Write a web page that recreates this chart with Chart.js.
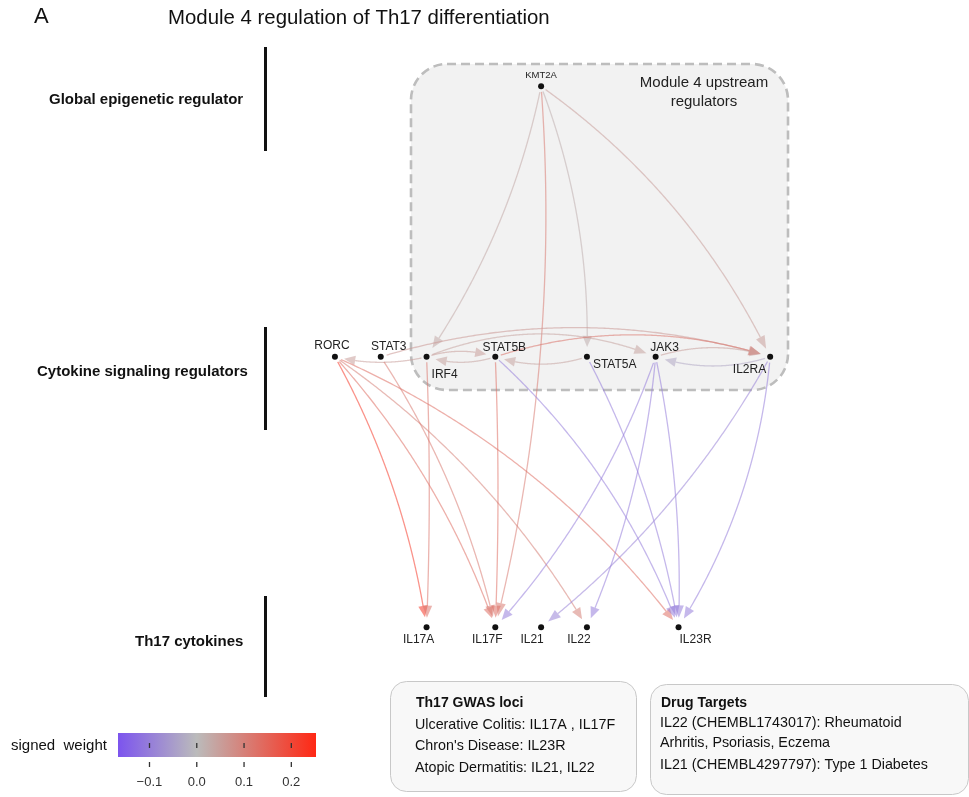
<!DOCTYPE html>
<html><head><meta charset="utf-8">
<script src="https://cdn.jsdelivr.net/npm/chart.js@4/dist/chart.umd.min.js"></script>
<style>html,body{margin:0;padding:0;background:#fff}#wrap{width:969px;height:797px;position:relative}</style>
</head><body><div id="wrap"><canvas id="c" width="969" height="797"></canvas></div>
<script>
// ---------- data ----------
const nodeNames = ['KMT2A','RORC','STAT3','IRF4','STAT5B','STAT5A','JAK3','IL2RA','IL17A','IL17F','IL21','IL22','IL23R'];
const nodeX     = [9, 0, 2, 4, 7, 11, 14, 19, 4, 7, 9, 11, 15];   // layout column
const nodeLayer = [2, 1, 1, 1, 1, 1, 1, 1, 0, 0, 0, 0, 0];        // layout layer
const layerLabels = ['Th17 cytokines','Cytokine signaling regulators','Global epigenetic regulator'];

const edgeFrom   = ['KMT2A','KMT2A','KMT2A','KMT2A','STAT3','IRF4','STAT5B','JAK3','IRF4','STAT5B','STAT5A','IL2RA','IRF4',
                    'RORC','RORC','RORC','RORC','STAT3','IRF4','STAT5B','STAT5B','STAT5A','JAK3','JAK3','JAK3','IL2RA','IL2RA'];
const edgeTo     = ['IRF4','IL17F','STAT5A','IL2RA','IL2RA','JAK3','IL2RA','IL2RA','STAT5B','IRF4','STAT5B','JAK3','RORC',
                    'IL17A','IL17F','IL22','IL23R','IL17F','IL17A','IL17F','IL23R','IL23R','IL17F','IL22','IL23R','IL21','IL23R'];
const edgeWeight = [0.03, 0.11, 0.02, 0.05, 0.06, 0.04, 0.12, 0.05, 0.05, 0.04, 0.04, -0.03, 0.05,
                    0.22, 0.13, 0.10, 0.13, 0.11, 0.12, 0.13, -0.10, -0.10, -0.10, -0.10, -0.10, -0.09, -0.10];
// edge bend (style): sagitta / chord
const edgeBend   = [0.05, 0.04, 0.05, 0.064, 0.075, 0.1, 0.08, 0.08, 0.08, 0.08, 0.08, 0.08, 0.06,
                    0.045, 0.05, 0.055, 0.065, 0.045, 0.01, 0.01, 0.06, 0.04, 0.05, 0.04, 0.03, 0.05, 0.06];

const legendTicks = [-0.1, 0.0, 0.1, 0.2];
const legendMin = -0.1665, legendMax = 0.2523;

const gwasTitle = 'Th17 GWAS loci';
const gwasLines = ['Ulcerative Colitis: IL17A , IL17F', "Chron's Disease: IL23R", 'Atopic Dermatitis: IL21, IL22'];
const drugTitle = 'Drug Targets';
const drugLines = ['IL22 (CHEMBL1743017): Rheumatoid', 'Arhritis, Psoriasis, Eczema', 'IL21 (CHEMBL4297797): Type 1 Diabetes'];

// ---------- styles ----------
const labelStyle = { // dx, dy, align, size
  KMT2A:[0,-11,'center',9.5], RORC:[-3,-11,'center',12], STAT3:[8,-10,'center',12], IRF4:[5,18,'left',12],
  STAT5B:[9,-9,'center',12], STAT5A:[6,8,'left',12], JAK3:[9,-9,'center',12], IL2RA:[-4,13,'right',12],
  IL17A:[-8,12,'center',12], IL17F:[-8,12,'center',12], IL21:[-9,12,'center',12], IL22:[-8,12,'center',12], IL23R:[17,12,'center',12]
};
const FONT = '"Liberation Sans", Arial, sans-serif';
const C_NEG = [124,84,238], C_MID = [187,187,187], C_POS = [255,40,20];
function weightRGB(w){
  let a, b, t;
  if (w < 0){ a = C_MID; b = C_NEG; t = Math.min(1, w / legendMin); }
  else { a = C_MID; b = C_POS; t = Math.min(1, w / legendMax); }
  return a.map((v,i)=>Math.round(v + (b[i]-v)*t));
}
function rgba(c, al){ return `rgba(${c[0]},${c[1]},${c[2]},${al})`; }

function roundRect(ctx, x, y, w, h, r){
  ctx.beginPath();
  ctx.moveTo(x+r, y); ctx.lineTo(x+w-r, y); ctx.arcTo(x+w, y, x+w, y+r, r);
  ctx.lineTo(x+w, y+h-r); ctx.arcTo(x+w, y+h, x+w-r, y+h, r);
  ctx.lineTo(x+r, y+h); ctx.arcTo(x, y+h, x, y+h-r, r);
  ctx.lineTo(x, y+r); ctx.arcTo(x, y, x+r, y, r); ctx.closePath();
}

const networkPlugin = {
  id: 'network',
  beforeDatasetsDraw(chart){
    const ctx = chart.ctx, xs = chart.scales.x, ys = chart.scales.y;
    const pos = {};
    nodeNames.forEach((n,i)=>{ pos[n] = [xs.getPixelForValue(nodeX[i]), ys.getPixelForValue(nodeLayer[i])]; });
    // module box
    ctx.save();
    roundRect(ctx, 411, 64, 377, 326, 36);
    ctx.fillStyle = '#f2f2f2'; ctx.fill();
    ctx.setLineDash([9,5]); ctx.lineWidth = 2.6; ctx.strokeStyle = '#bdbdbd'; ctx.stroke();
    ctx.restore();
    // edges
    edgeFrom.forEach((f,i)=>{
      const p0 = pos[f], p1 = pos[edgeTo[i]];
      const dx = p1[0]-p0[0], dy = p1[1]-p0[1], L = Math.hypot(dx,dy);
      const nx = dy/L, ny = -dx/L, s = edgeBend[i]*L*2;
      const cx = (p0[0]+p1[0])/2 + nx*s, cy = (p0[1]+p1[1])/2 + ny*s;
      const pts = [];
      for (let k=0;k<=200;k++){ const t=k/200, u=1-t;
        pts.push([u*u*p0[0]+2*u*t*cx+t*t*p1[0], u*u*p0[1]+2*u*t*cy+t*t*p1[1]]); }
      let a = 0; while (a < pts.length-1 && Math.hypot(pts[a][0]-p0[0], pts[a][1]-p0[1]) < 5) a++;
      let b = pts.length-1; while (b > 0 && Math.hypot(pts[b][0]-p1[0], pts[b][1]-p1[1]) < 9) b--;
      const tip = pts[b];
      let c = b; while (c > a && Math.hypot(pts[c][0]-tip[0], pts[c][1]-tip[1]) < 11) c--;
      const base = pts[c];
      const col = weightRGB(edgeWeight[i]);
      ctx.save();
      ctx.strokeStyle = rgba(col, 0.55); ctx.lineWidth = 1.3;
      ctx.beginPath(); ctx.moveTo(pts[a][0], pts[a][1]);
      for (let k=a+1;k<=c;k++) ctx.lineTo(pts[k][0], pts[k][1]);
      ctx.stroke();
      const ux = tip[0]-base[0], uy = tip[1]-base[1], ul = Math.hypot(ux,uy);
      const px = -uy/ul*4.8, py = ux/ul*4.8;
      ctx.fillStyle = rgba(col, 0.55);
      ctx.beginPath(); ctx.moveTo(tip[0], tip[1]);
      ctx.lineTo(base[0]+px, base[1]+py); ctx.lineTo(base[0]-px, base[1]-py); ctx.closePath(); ctx.fill();
      ctx.restore();
    });
  },
  afterDraw(chart){
    const ctx = chart.ctx, xs = chart.scales.x, ys = chart.scales.y;
    ctx.save();
    ctx.fillStyle = '#111'; ctx.textBaseline = 'middle';
    // node labels
    nodeNames.forEach((n,i)=>{
      const st = labelStyle[n];
      ctx.font = `${st[3]}px ${FONT}`; ctx.textAlign = st[2];
      ctx.fillStyle = '#222';
      ctx.fillText(n, xs.getPixelForValue(nodeX[i]) + st[0], ys.getPixelForValue(nodeLayer[i]) + st[1]);
    });
    ctx.fillStyle = '#111';
    // header
    ctx.textAlign = 'left';
    ctx.font = `22px ${FONT}`; ctx.fillText('A', 34, 17);
    ctx.font = `20.4px ${FONT}`; ctx.fillText('Module 4 regulation of Th17 differentiation', 168, 18);
    // layer labels and bars
    ctx.font = `bold 15px ${FONT}`; ctx.textAlign = 'left';
    const labX = [135, 37, 49], labDy = [15, 15, 13];
    const barSpan = [[596,697],[327,430],[47,151]];
    layerLabels.forEach((t,L)=>{
      ctx.fillText(t, labX[L], ys.getPixelForValue(L) + labDy[L]);
      ctx.fillRect(264, barSpan[L][0], 3, barSpan[L][1]-barSpan[L][0]);
    });
    // module box caption
    ctx.font = `15px ${FONT}`; ctx.textAlign = 'center'; ctx.fillStyle = '#222';
    ctx.fillText('Module 4 upstream', 704, 83);
    ctx.fillText('regulators', 704, 102);
    // info boxes
    ctx.lineWidth = 1; ctx.strokeStyle = '#c8c8c8'; ctx.fillStyle = '#f8f8f8';
    roundRect(ctx, 390.5, 681.5, 246, 110, 16); ctx.fill(); ctx.stroke();
    roundRect(ctx, 650.5, 684.5, 318, 110, 16); ctx.fill(); ctx.stroke();
    ctx.fillStyle = '#111'; ctx.textAlign = 'left';
    ctx.font = `bold 14px ${FONT}`;
    ctx.fillText(gwasTitle, 416, 703);
    ctx.fillText(drugTitle, 661, 703);
    ctx.font = `14.3px ${FONT}`;
    gwasLines.forEach((t,k)=>ctx.fillText(t, 415, 725 + k*21.5));
    const dy = [723, 743, 765];
    drugLines.forEach((t,k)=>ctx.fillText(t, 660, dy[k]));
    // colour legend
    const lx0 = 118, lx1 = 316, ly0 = 733, ly1 = 757;
    const g = ctx.createLinearGradient(lx0, 0, lx1, 0);
    const z = (0 - legendMin)/(legendMax - legendMin);
    g.addColorStop(0, rgba(C_NEG,1)); g.addColorStop(z, rgba(C_MID,1)); g.addColorStop(1, rgba(C_POS,1));
    ctx.fillStyle = g; ctx.fillRect(lx0, ly0, lx1-lx0, ly1-ly0);
    ctx.fillStyle = '#333';
    ctx.font = `13px ${FONT}`; ctx.textAlign = 'center';
    legendTicks.forEach(v=>{
      const x = lx0 + (v - legendMin)/(legendMax-legendMin)*(lx1-lx0);
      ctx.fillRect(x-0.6, 743, 1.3, 5);
      ctx.fillRect(x-0.6, 762, 1.3, 5);
      ctx.fillText(v === 0 ? '0.0' : (v < 0 ? '\u2212' + Math.abs(v).toFixed(1) : v.toFixed(1)), x, 782);
    });
    ctx.fillStyle = '#111'; ctx.textAlign = 'left'; ctx.font = `15px ${FONT}`;
    ctx.fillText('signed  weight', 11, 746);
    ctx.restore();
  }
};

const X_PX_PER_UNIT = 23.05, X_ORIGIN = 334, Y_PX_PER_LAYER = 272.5, Y_ORIGIN = 629;
new Chart(document.getElementById('c'), {
  type: 'scatter',
  data: { datasets: [{
    data: nodeNames.map((n,i)=>({x:nodeX[i], y:nodeLayer[i]})),
    pointRadius: 3, pointHoverRadius: 3, backgroundColor: '#111', borderWidth: 0
  }]},
  options: {
    responsive: false, animation: false, devicePixelRatio: 1,
    layout: { padding: 0 },
    plugins: { legend: {display:false}, tooltip: {enabled:false} },
    events: [],
    scales: {
      x: { type:'linear', display:false, min: -X_ORIGIN/X_PX_PER_UNIT, max: (969-X_ORIGIN)/X_PX_PER_UNIT },
      y: { type:'linear', display:false, min: (Y_ORIGIN-797)/Y_PX_PER_LAYER, max: Y_ORIGIN/Y_PX_PER_LAYER }
    }
  },
  plugins: [networkPlugin]
});
</script></body></html>
